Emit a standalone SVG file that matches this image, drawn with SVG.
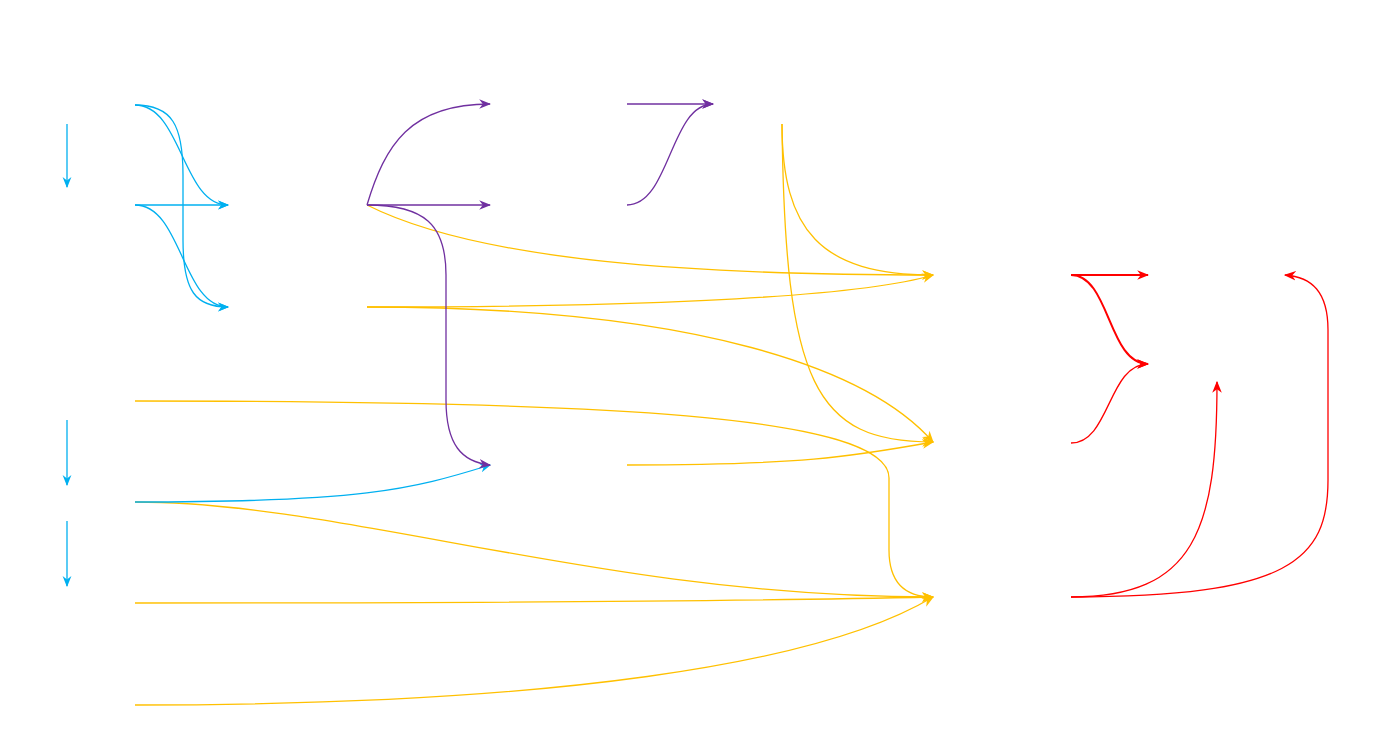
<svg xmlns="http://www.w3.org/2000/svg" width="1377" height="745" viewBox="0 0 1377 745">
<style>
.c{fill:none;stroke-width:1.3}
.b{stroke:#00b0f0}
.p{stroke:#7030a0}
.y{stroke:#ffc000}
.r{stroke:#ff0000}
.t{stroke-width:2}
</style>
<defs>
<marker id="ab" viewBox="0 0 10 10" refX="9" refY="5" markerWidth="11" markerHeight="11" markerUnits="userSpaceOnUse" orient="auto"><path d="M0,1 L10,5 L0,9 L3,5 Z" fill="#00b0f0"/></marker>
<marker id="ap" viewBox="0 0 10 10" refX="9" refY="5" markerWidth="12" markerHeight="12" markerUnits="userSpaceOnUse" orient="auto"><path d="M0,1 L10,5 L0,9 L3,5 Z" fill="#7030a0"/></marker>
<marker id="ay" viewBox="0 0 10 10" refX="9" refY="5" markerWidth="12" markerHeight="12" markerUnits="userSpaceOnUse" orient="auto"><path d="M0,1 L10,5 L0,9 L3,5 Z" fill="#ffc000"/></marker>
<marker id="ar" viewBox="0 0 10 10" refX="9" refY="5" markerWidth="12" markerHeight="12" markerUnits="userSpaceOnUse" orient="auto"><path d="M0,1 L10,5 L0,9 L3,5 Z" fill="#ff0000"/></marker>
</defs>
<rect width="1377" height="745" fill="#ffffff"/>
<g id="connectors">
<!-- yellow -->
<path class="c y" d="M367,205 C480,262 700,275 933,275" marker-end="url(#ay)"/>
<path class="c y" d="M367,307 C600,307 850,300 933,275" marker-end="url(#ay)"/>
<path class="c y" d="M367,307 C700,307 870,370 933,442" marker-end="url(#ay)"/>
<path class="c y" d="M782,124 C782,230 820,275 933,275" marker-end="url(#ay)"/>
<path class="c y" d="M782,124 C785,385 815,442 933,442" marker-end="url(#ay)"/>
<path class="c y" d="M135,401 C600,401 889,415 889,478 L889,550 C889,585 908,597 933,597" marker-end="url(#ay)"/>
<path class="c y" d="M627,465 C800,465 850,457 933,442" marker-end="url(#ay)"/>
<path class="c y" d="M135,502 C350,502 600,597 933,597" marker-end="url(#ay)"/>
<path class="c y" d="M135,603 C500,603 800,600 933,597" marker-end="url(#ay)"/>
<path class="c y" d="M135,705 C550,705 820,665 933,597" marker-end="url(#ay)"/>
<!-- blue -->
<path class="c b" d="M67,124 L67,187" marker-end="url(#ab)"/>
<path class="c b" d="M67,420 L67,485" marker-end="url(#ab)"/>
<path class="c b" d="M67,521 L67,586" marker-end="url(#ab)"/>
<path class="c b" d="M135,105 C182,105 182,205 228,205" marker-end="url(#ab)"/>
<path class="c b" d="M135,105 C172,105 183,125 183,175 L183,240 C183,292 196,307 228,307" marker-end="url(#ab)"/>
<path class="c b" d="M135,205 L228,205" marker-end="url(#ab)"/>
<path class="c b" d="M135,205 C182,205 182,307 228,307" marker-end="url(#ab)"/>
<path class="c b" d="M135,502 C360,502 410,490 490,465" marker-end="url(#ab)"/>
<!-- purple -->
<path class="c p" d="M367,205 C385,145 410,104 490,104" marker-end="url(#ap)"/>
<path class="c p" d="M367,205 L490,205" marker-end="url(#ap)"/>
<path class="c p" d="M367,205 C425,205 446,225 446,275 L446,400 C446,445 462,462 490,465" marker-end="url(#ap)"/>
<path class="c p" d="M627,104 L713,104" marker-end="url(#ap)"/>
<path class="c p" d="M627,205 C670,205 670,104 713,104" marker-end="url(#ap)"/>
<!-- red -->
<path class="c r t" d="M1071,275 L1148,275" marker-end="url(#ar)"/>
<path class="c r t" d="M1071,275 C1110,275 1108,364 1148,364" marker-end="url(#ar)"/>
<path class="c r" d="M1071,443 C1110,443 1108,364 1148,364" marker-end="url(#ar)"/>
<path class="c r" d="M1071,597 C1195,597 1217,530 1217,382" marker-end="url(#ar)"/>
<path class="c r" d="M1071,597 C1290,597 1328,560 1328,480 L1328,330 C1328,292 1312,277 1285,275" marker-end="url(#ar)"/>
</g>
</svg>
